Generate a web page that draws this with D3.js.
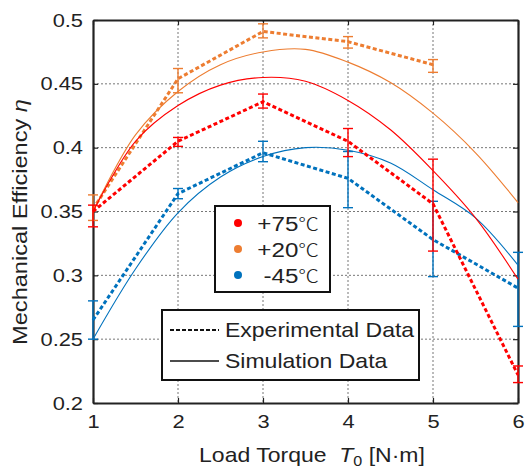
<!DOCTYPE html>
<html>
<head>
<meta charset="utf-8">
<script src="https://cdn.jsdelivr.net/npm/d3@7"></script>
<style>
  body { margin: 0; background: #fff; }
  text { font-family: Arial, "Liberation Sans", sans-serif; fill: #222; white-space: pre; }
</style>
</head>
<body>
<div id="chart"></div>
<script>
// Experimental points (x = load torque)
const torque = [1, 2, 3, 4, 5, 6];
const exp75 = [0.350, 0.405, 0.436, 0.405, 0.356, 0.222];
const exp75Lo = [0.338, 0.401, 0.431, 0.393, 0.319, 0.216];
const exp75Hi = [0.355, 0.408, 0.442, 0.415, 0.391, 0.229];
const exp20 = [0.352, 0.454, 0.491, 0.483, 0.465];
const exp20Lo = [0.343, 0.443, 0.486, 0.478, 0.459];
const exp20Hi = [0.363, 0.462, 0.497, 0.487, 0.469];
const expM45 = [0.265, 0.364, 0.396, 0.376, 0.328, 0.290];
const expM45Lo = [0.250, 0.360, 0.389, 0.353, 0.299, 0.260];
const expM45Hi = [0.280, 0.368, 0.405, 0.397, 0.358, 0.318];

// Simulation curves, read every 0.5 N·m
const simTorque = [1, 1.5, 2, 2.5, 3, 3.5, 4, 4.5, 5, 5.5, 6];
const sim75 = [0.350, 0.405, 0.433, 0.449, 0.455, 0.452, 0.437, 0.414, 0.382, 0.345, 0.297];
const sim20 = [0.350, 0.410, 0.444, 0.465, 0.475, 0.477, 0.467, 0.451, 0.427, 0.396, 0.357];
const simM45 = [0.250, 0.305, 0.349, 0.377, 0.393, 0.400, 0.398, 0.388, 0.367, 0.345, 0.308];

const xTicks = [1, 2, 3, 4, 5, 6];
const yTicks = [0.2, 0.25, 0.3, 0.35, 0.4, 0.45, 0.5];
const legendLabels = ["+75", "+20", "-45"];
const colors = ["#ff0000", "#ed7d31", "#0072bd"];

const W = 528, H = 468;
const SX = 1.15; // glyphs in the original are wider than Arial
const margin = { top: 20, right: 10, bottom: 65, left: 93 };
const width = W - margin.left - margin.right,
    height = H - margin.top - margin.bottom;

const svg = d3.select("#chart").append("svg")
    .attr("width", W).attr("height", H);
const g = svg.append("g")
    .attr("transform", `translate(${margin.left},${margin.top})`);

const x = d3.scaleLinear().domain([1, 6]).range([0, width]);
const y = d3.scaleLinear().domain([0.2, 0.5]).range([height, 0]);

// Grid
g.append("g").selectAll("line").data(xTicks.slice(1, -1)).join("line")
    .attr("x1", d => x(d)).attr("x2", d => x(d))
    .attr("y1", 0).attr("y2", height)
    .attr("stroke", "#777").attr("stroke-width", 1).attr("stroke-dasharray", "2,2");
g.append("g").selectAll("line").data(yTicks.slice(1, -1)).join("line")
    .attr("y1", d => y(d)).attr("y2", d => y(d))
    .attr("x1", 0).attr("x2", width)
    .attr("stroke", "#777").attr("stroke-width", 1).attr("stroke-dasharray", "2,2");

// Axes (MATLAB style, inward ticks)
const xAxis = g.append("g").attr("transform", `translate(0,${height})`)
    .call(d3.axisBottom(x).tickValues(xTicks).tickFormat(d3.format("d")).tickSizeInner(-5).tickSizeOuter(0).tickPadding(12));
const yAxis = g.append("g")
    .call(d3.axisLeft(y).tickValues(yTicks).tickFormat(d => String(+d.toFixed(2))).tickSizeInner(-5).tickSizeOuter(0).tickPadding(10));
g.append("g").attr("transform", `translate(${width},0)`)
    .call(d3.axisRight(y).tickValues(yTicks).tickFormat("").tickSizeInner(-5).tickSizeOuter(0));
g.append("g")
    .call(d3.axisTop(x).tickValues(xTicks).tickFormat("").tickSizeInner(-5).tickSizeOuter(0));
g.selectAll(".domain").attr("stroke", "#222").attr("stroke-width", 2.2);
g.selectAll(".tick line").attr("stroke", "#222").attr("stroke-width", 1.2);
g.selectAll(".tick text").attr("font-size", 19).attr("fill", "#222")
    .attr("font-family", "Arial, 'Liberation Sans', sans-serif")
    .each(function () {
        const t = d3.select(this);
        t.attr("x", (+t.attr("x") || 0) / SX).attr("transform", `scale(${SX},1)`);
    });

// Series
const series = [
    { sim: sim75, exp: exp75, lo: exp75Lo, hi: exp75Hi },
    { sim: sim20, exp: exp20, lo: exp20Lo, hi: exp20Hi },
    { sim: simM45, exp: expM45, lo: expM45Lo, hi: expM45Hi }
];

const simLine = d3.line().x(d => x(d[0])).y(d => y(d[1])).curve(d3.curveCatmullRom.alpha(0.5));
const expLine = d3.line().x(d => x(d[0])).y(d => y(d[1]));

[2, 1, 0].forEach(i => {
    const s = series[i], c = colors[i];
    g.append("path")
        .datum(simTorque.map((t, k) => [t, s.sim[k]]))
        .attr("d", simLine)
        .attr("fill", "none").attr("stroke", c).attr("stroke-width", 1.1);
    g.append("path")
        .datum(s.exp.map((v, k) => [torque[k], v]))
        .attr("d", expLine)
        .attr("fill", "none").attr("stroke", c).attr("stroke-width", 3)
        .attr("stroke-dasharray", "4,2.5");
    const eb = g.append("g").attr("stroke", c).attr("stroke-width", 1.4);
    s.exp.forEach((v, k) => {
        const cx = x(torque[k]);
        eb.append("line").attr("x1", cx).attr("x2", cx).attr("y1", y(s.lo[k])).attr("y2", y(s.hi[k]));
        eb.append("line").attr("x1", cx - 5).attr("x2", cx + 5).attr("y1", y(s.lo[k])).attr("y2", y(s.lo[k]));
        eb.append("line").attr("x1", cx - 5).attr("x2", cx + 5).attr("y1", y(s.hi[k])).attr("y2", y(s.hi[k]));
    });
});

// Legend 1: temperatures
const l1 = svg.append("g").attr("transform", "translate(215,206)");
l1.append("rect").attr("width", 115).attr("height", 86)
    .attr("fill", "#fff").attr("stroke", "#111").attr("stroke-width", 2);
legendLabels.forEach((lab, i) => {
    l1.append("circle").attr("cx", 23).attr("cy", 17 + i * 26).attr("r", 4).attr("fill", colors[i]);
    const t = l1.append("text").attr("x", 104 / SX).attr("y", 17 + i * 26).attr("dy", "0.36em")
        .attr("transform", `scale(${SX},1)`)
        .attr("text-anchor", "end").attr("font-size", 21).attr("fill", "#111");
    t.append("tspan").text(lab);
    t.append("tspan").attr("font-family", "'Noto Sans CJK SC', sans-serif").attr("font-size", 18)
        .attr("font-weight", 300).text("℃");
});

// Legend 2: line styles
const l2 = svg.append("g").attr("transform", "translate(162,310)");
l2.append("rect").attr("width", 257).attr("height", 70)
    .attr("fill", "#fff").attr("stroke", "#111").attr("stroke-width", 2);
l2.append("line").attr("x1", 8).attr("x2", 57).attr("y1", 20).attr("y2", 20)
    .attr("stroke", "#111").attr("stroke-width", 2).attr("stroke-dasharray", "4,2");
l2.append("line").attr("x1", 8).attr("x2", 57).attr("y1", 51).attr("y2", 51)
    .attr("stroke", "#111").attr("stroke-width", 1.5);
l2.append("text").attr("x", 63 / SX).attr("y", 20).attr("dy", "0.36em").attr("transform", `scale(${SX},1)`)
    .attr("font-size", 20).attr("fill", "#111").text("Experimental Data");
l2.append("text").attr("x", 63 / SX).attr("y", 51).attr("dy", "0.36em").attr("transform", `scale(${SX},1)`)
    .attr("font-size", 20).attr("fill", "#111").text("Simulation Data");

// Axis titles
const xt = svg.append("text").attr("x", 312 / SX).attr("y", 462).attr("transform", `scale(${SX},1)`)
    .attr("text-anchor", "middle").attr("font-size", 20);
xt.append("tspan").text("Load Torque  ");
xt.append("tspan").attr("font-style", "italic").text("T");
xt.append("tspan").attr("font-size", 14).attr("dy", 4).text("0");
xt.append("tspan").attr("dy", -4).text(" [N·m]");

const yt = svg.append("text").attr("transform", `translate(27,222) rotate(-90) scale(${SX},1)`)
    .attr("text-anchor", "middle").attr("font-size", 20.5);
yt.append("tspan").text("Mechanical Efficiency ");
yt.append("tspan").attr("font-style", "italic").text("η");
</script>
</body>
</html>
